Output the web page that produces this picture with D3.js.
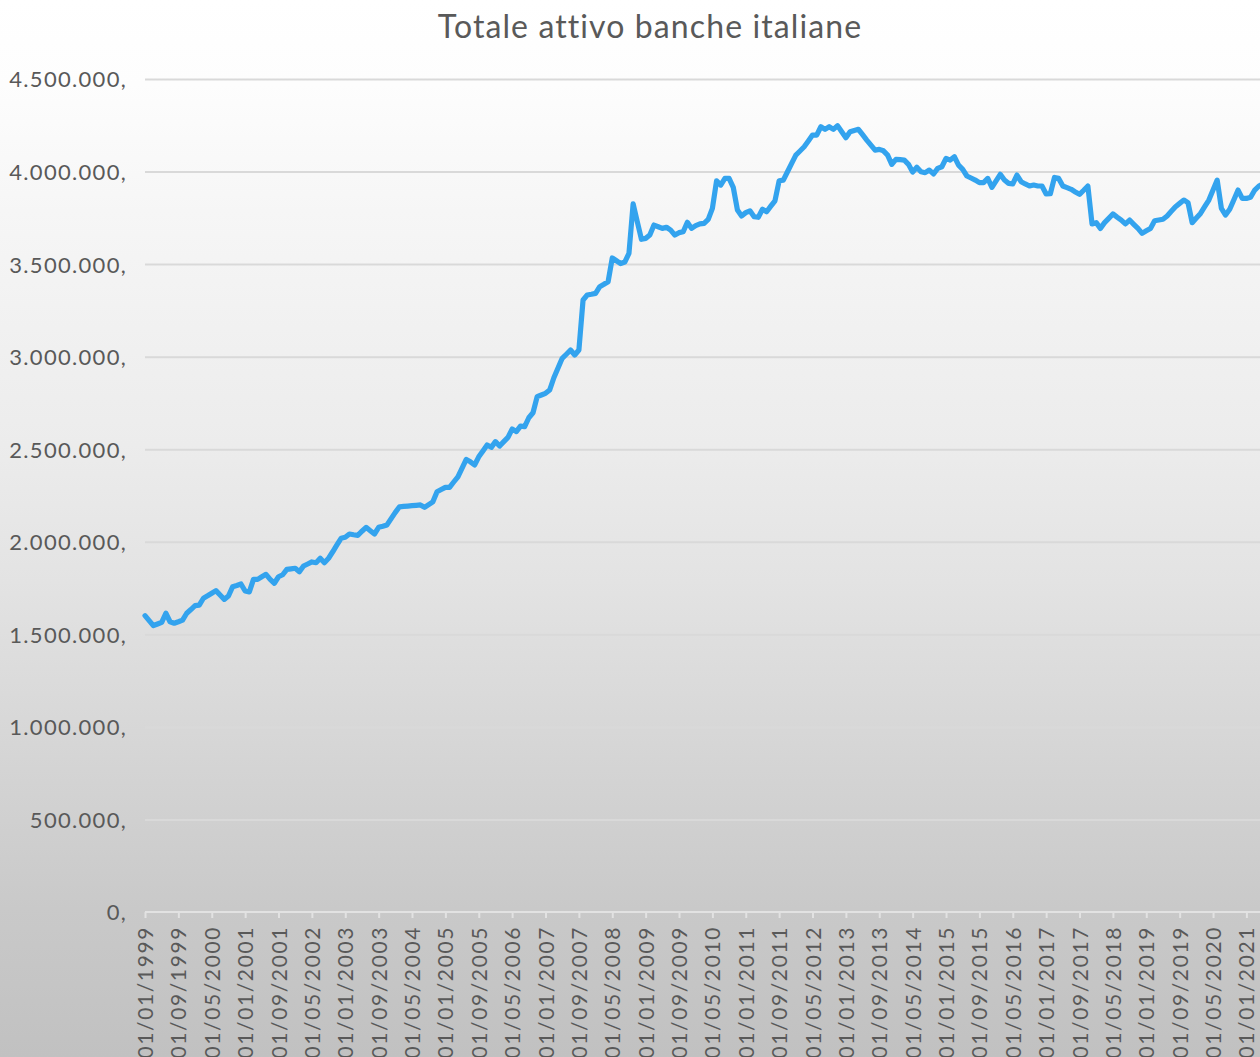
<!DOCTYPE html>
<html>
<head>
<meta charset="utf-8">
<script src="https://cdn.jsdelivr.net/npm/d3@7"></script>
<style>
  html, body { margin: 0; padding: 0; overflow: hidden; background: #fff; }
  svg { display: block; }
  text { font-family: Lato, "Open Sans", "Noto Sans", sans-serif; fill: #595959; }
</style>
</head>
<body>
<svg id="chart" width="1260" height="1057"></svg>
<script>
// Totale attivo delle banche italiane, dati mensili da gennaio 1999 (valori in milioni di euro)
const startYear = 1999;
const totaleAttivo = [
  1601000, 1574000, 1547000, 1556000, 1565000, 1614000, 1568000, 1560000, 1568000, 1577000, 1614000, 1634000,
  1655000, 1658000, 1695000, 1708000, 1722000, 1736000, 1712000, 1689000, 1707000, 1757000, 1764000, 1772000,
  1734000, 1729000, 1797000, 1797000, 1811000, 1824000, 1797000, 1776000, 1811000, 1822000, 1851000, 1854000,
  1857000, 1838000, 1869000, 1880000, 1891000, 1887000, 1911000, 1887000, 1911000, 1946000, 1983000, 2019000,
  2024000, 2042000, 2038000, 2035000, 2057000, 2078000, 2060000, 2042000, 2078000, 2084000, 2091000, 2125000,
  2159000, 2189000, 2191000, 2193000, 2195000, 2197000, 2199000, 2186000, 2201000, 2216000, 2270000, 2282000,
  2294000, 2294000, 2323000, 2351000, 2398000, 2445000, 2432000, 2415000, 2459000, 2491000, 2523000, 2510000,
  2541000, 2517000, 2541000, 2564000, 2609000, 2595000, 2625000, 2622000, 2670000, 2697000, 2784000, 2793000,
  2802000, 2820000, 2886000, 2939000, 2991000, 3013000, 3036000, 3009000, 3036000, 3306000, 3333000, 3337000,
  3342000, 3378000, 3391000, 3405000, 3533000, 3518000, 3503000, 3511000, 3558000, 3825000, 3729000, 3634000,
  3639000, 3657000, 3711000, 3702000, 3693000, 3699000, 3684000, 3657000, 3670000, 3675000, 3726000, 3693000,
  3708000, 3717000, 3720000, 3742000, 3801000, 3950000, 3927000, 3963000, 3963000, 3915000, 3792000, 3760000,
  3778000, 3788000, 3756000, 3753000, 3796000, 3783000, 3813000, 3842000, 3950000, 3954000, 3999000, 4044000,
  4089000, 4111000, 4134000, 4165000, 4197000, 4197000, 4242000, 4228000, 4242000, 4228000, 4248000, 4215000,
  4183000, 4215000, 4222000, 4228000, 4199000, 4170000, 4143000, 4116000, 4120000, 4112000, 4089000, 4039000,
  4066000, 4064000, 4062000, 4039000, 3997000, 4023000, 3999000, 3994000, 4008000, 3987000, 4017000, 4026000,
  4071000, 4062000, 4080000, 4035000, 4012000, 3976000, 3965000, 3954000, 3940000, 3940000, 3963000, 3915000,
  3950000, 3985000, 3954000, 3936000, 3933000, 3981000, 3945000, 3933000, 3922000, 3927000, 3922000, 3922000,
  3879000, 3880000, 3968000, 3963000, 3922000, 3913000, 3904000, 3890000, 3877000, 3899000, 3922000, 3717000,
  3724000, 3693000, 3724000, 3747000, 3771000, 3754000, 3738000, 3717000, 3738000, 3715000, 3693000, 3666000,
  3680000, 3693000, 3734000, 3738000, 3742000, 3760000, 3785000, 3810000, 3828000, 3846000, 3832000, 3724000,
  3749000, 3774000, 3810000, 3846000, 3900000, 3954000, 3801000, 3765000, 3796000, 3848000, 3900000, 3855000,
  3855000, 3861000, 3900000, 3922000, 3933000
];
const yTicks = [0, 500000, 1000000, 1500000, 2000000, 2500000, 3000000, 3500000, 4000000, 4500000];
const labelEveryMonths = 8;
const chartTitle = "Totale attivo banche italiane";

// Category labels: first day of each month, dd/mm/yyyy
const months = totaleAttivo.map((_, i) => {
  const y = startYear + Math.floor(i / 12);
  const m = (i % 12) + 1;
  return "01/" + String(m).padStart(2, "0") + "/" + y;
});
const xTickLabels = months.filter((_, i) => i % labelEveryMonths === 0);

const W = 1260, H = 1057;
const plotLeft = 145, plotTop = 79, plotBottom = 912;
const monthStep = 4.172;
const plotRight = plotLeft + monthStep * (months.length - 1);

const svg = d3.select("#chart");

// Background: soft vertical gradient white -> grey
const defs = svg.append("defs");
const grad = defs.append("linearGradient")
  .attr("id", "bg").attr("x1", 0).attr("y1", 0).attr("x2", 0).attr("y2", 1);
[[0, "#ffffff"], [0.08, "#fdfdfd"], [0.2, "#f6f6f6"], [0.42, "#ececec"], [0.55, "#e3e3e3"],
 [0.62, "#dddddd"], [0.86, "#c9c9c9"], [1, "#c1c1c1"]]
  .forEach(([o, c]) => grad.append("stop").attr("offset", o).attr("stop-color", c));
svg.append("rect").attr("width", W).attr("height", H).attr("fill", "url(#bg)");

const x = d3.scalePoint().domain(months).range([plotLeft, plotRight]).padding(0);
const y = d3.scaleLinear().domain([0, 4500000]).range([plotBottom, plotTop]);

// Horizontal gridlines
const grid = svg.append("g")
  .attr("transform", `translate(${plotLeft},0)`)
  .call(d3.axisLeft(y).tickValues(yTicks.slice(1)).tickSize(-(plotRight - plotLeft + 40)).tickFormat(""));
grid.select(".domain").remove();
grid.selectAll("line").attr("stroke", "#d9d9d9").attr("stroke-width", 2);

// Y axis labels, Italian grouping with a trailing comma
const itLocale = d3.formatLocale({ decimal: ",", thousands: ".", grouping: [3], currency: ["€", ""] });
const fmt = itLocale.format(",");
const yAxis = svg.append("g")
  .attr("transform", `translate(${plotLeft},0)`)
  .call(d3.axisLeft(y).tickValues(yTicks).tickSize(0).tickPadding(18).tickFormat(d => fmt(d) + ","));
yAxis.select(".domain").remove();
yAxis.selectAll("text")
  .style("font-size", "22px")
  .style("letter-spacing", "1.3px")
  .style("fill", "#595959")
  .attr("dy", "0.36em");

// X axis with rotated date labels
const xAxis = svg.append("g")
  .attr("transform", `translate(0,${plotBottom})`)
  .call(d3.axisBottom(x).tickValues(xTickLabels).tickSize(6).tickSizeOuter(0));
xAxis.select(".domain")
  .attr("stroke", "#e2e2e2").attr("stroke-width", 2)
  .attr("d", `M${plotLeft},0H${plotRight + 40}`);
xAxis.selectAll(".tick line").attr("stroke", "#e2e2e2").attr("stroke-width", 2);
xAxis.selectAll("text")
  .attr("transform", "rotate(-90)")
  .attr("x", -14).attr("y", 0).attr("dy", "0.36em")
  .style("text-anchor", "end")
  .style("font-size", "21px")
  .style("letter-spacing", "1.6px")
  .style("fill", "#595959");

// Series line
const line = d3.line()
  .x((d, i) => x(months[i]))
  .y(d => y(d));
svg.append("path")
  .datum(totaleAttivo)
  .attr("d", line)
  .attr("fill", "none")
  .attr("stroke", "#33a3ee")
  .attr("stroke-width", 5.2)
  .attr("stroke-linejoin", "round")
  .attr("stroke-linecap", "round");

// Title
svg.append("text")
  .attr("x", 650).attr("y", 38)
  .attr("text-anchor", "middle")
  .style("font-size", "32px")
  .style("letter-spacing", "1.1px")
  .style("fill", "#595959")
  .text(chartTitle);
</script>
</body>
</html>
